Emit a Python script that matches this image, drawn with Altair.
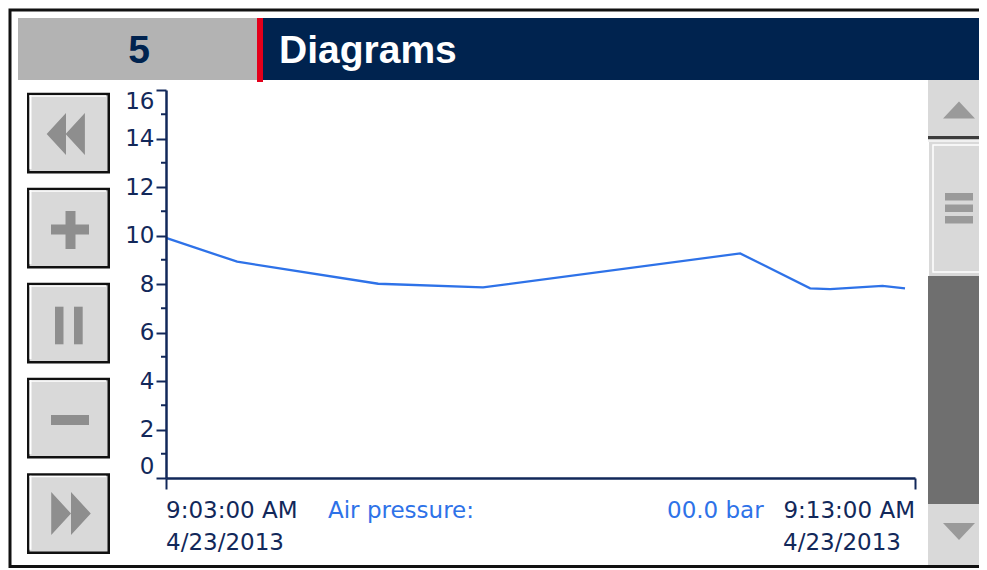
import altair as alt
import pandas as pd

# ---------------- data ----------------
times = [
    "2013-04-23T09:03:00Z", "2013-04-23T09:03:57Z", "2013-04-23T09:05:50Z",
    "2013-04-23T09:07:14Z", "2013-04-23T09:10:40Z", "2013-04-23T09:11:36Z",
    "2013-04-23T09:11:52Z", "2013-04-23T09:12:34Z", "2013-04-23T09:12:52Z",
]
pressure = [9.9, 8.92, 8.01, 7.86, 9.26, 7.82, 7.79, 7.92, 7.82]

y_major_ticks = [0, 2, 4, 6, 8, 10, 12, 14, 16]
y_minor_ticks = [1, 3, 5, 7, 9, 11, 13, 15]
x_tick_times = ["2013-04-23T09:03:00Z", "2013-04-23T09:13:00Z"]
x_tick_clock = ["9:03:00 AM", "9:13:00 AM"]
x_tick_date = ["4/23/2013", "4/23/2013"]

screen_no = "5"
screen_title = "Diagrams"
trend_label = "Air pressure:"
trend_value = "00.0 bar"

# ---------------- styling / layout ----------------
NAVY = "#12285a"
BLUE = "#2e72e8"
HEADER_NAVY = "#00234f"
HEADER_GRAY = "#b3b3b3"
RED = "#e3001b"
BTN = "#d9d9d9"
ICON = "#8e8e8e"
TRACK = "#6f6f6f"
FONT = "DejaVu Sans"

TOTAL_W, TOTAL_H = 971, 562
W, H = 749, 388
PL, PT = 158, 82
OX, OY = 8 + PL, 8 + PT  # page position of plot origin


def P(x):
    return x - OX


def Q(y):
    return y - OY


ONE = alt.Data(values=[{"k": 0}])


def box(x1, x2, y1, y2, fill, **kw):
    return alt.Chart(ONE).mark_rect(fill=fill, **kw).encode(
        x=alt.value(P(x1)), x2=alt.value(P(x2)),
        y=alt.value(Q(y1)), y2=alt.value(Q(y2)))


def outline(x1, x2, y1, y2, color, width):
    return alt.Chart(ONE).mark_rect(fillOpacity=0, stroke=color, strokeWidth=width).encode(
        x=alt.value(P(x1)), x2=alt.value(P(x2)),
        y=alt.value(Q(y1)), y2=alt.value(Q(y2)))


def glyph(path, cx, cy, half, color):
    return alt.Chart(ONE).mark_point(shape=path, size=(2 * half) ** 2, filled=True,
                                     color=color, opacity=1, strokeWidth=0).encode(
        x=alt.value(P(cx)), y=alt.value(Q(cy)))


def label(txt, x, y, size, color, font=FONT, weight="normal", align="left"):
    return alt.Chart(ONE).mark_text(text=txt, font=font, fontSize=size, fontWeight=weight,
                                    color=color, align=align, baseline="alphabetic").encode(
        x=alt.value(P(x)), y=alt.value(Q(y)))


# ---------------- the trend itself ----------------
ms0 = int(pd.Timestamp(x_tick_times[0]).value // 10**6)
ms1 = int(pd.Timestamp(x_tick_times[1]).value // 10**6)

X_SCALE = alt.Scale(type="utc", domain=[ms0, ms1])
Y_SCALE = alt.Scale(domain=[0, 16], nice=False, zero=True)
X_AXIS = alt.Axis(values=[ms0, ms1], labels=False, tickSize=11, tickWidth=2,
                  tickColor=NAVY, domainColor=NAVY, domainWidth=2.5,
                  title=None, grid=False, zindex=2)
Y_AXIS = alt.Axis(values=y_major_ticks, labelFlush=True, tickSize=10, tickWidth=2,
                  tickColor=NAVY, domainColor=NAVY, domainWidth=2.5,
                  labelFont=FONT, labelFontSize=23, labelColor=NAVY,
                  labelPadding=2, title=None, grid=False, zindex=2)

df = pd.DataFrame({"time": times, "pressure": pressure})

line = alt.Chart(df).mark_line(color=BLUE, strokeWidth=2.3).encode(
    x=alt.X("time:T", scale=X_SCALE, axis=X_AXIS),
    y=alt.Y("pressure:Q", scale=Y_SCALE, axis=Y_AXIS),
)

layers = [line]

# outer frame
layers.append(outline(10, 1000, 10, 566.5, "#111111", 3))
# header
layers.append(box(18, 257, 18, 80, HEADER_GRAY))
layers.append(box(263, 1000, 18, 80, HEADER_NAVY))
layers.append(box(257, 263, 18, 82, RED))
layers.append(label(screen_no, 139, 63, 39, HEADER_NAVY, "Liberation Sans", "bold", "center"))
layers.append(label(screen_title, 279, 63, 39, "white", "Liberation Sans", "bold"))

# left buttons
btn_tops = [92.7, 187.7, 282.7, 377.7, 473.3]
for top in btn_tops:
    layers.append(box(27, 110, top, top + 80.7, "#111111"))
    layers.append(box(29.5, 107.5, top + 2.5, top + 78.2, BTN))
    layers.append(box(29.5, 106, top + 2.5, top + 4, "white"))
    layers.append(box(29.5, 31.5, top + 2.5, top + 76.5, "white"))

rewind = "M -0.92 0 L 0 -1 L 0 1 Z M -0.02 0 L 0.9 -1 L 0.9 1 Z"
forward = "M -0.92 -1 L 0 0 L -0.92 1 Z M 0 -1 L 0.92 0 L 0 1 Z"
layers.append(glyph(rewind, 66, 134, 21, ICON))
layers.append(box(51, 89, 224.5, 234.5, ICON))      # plus
layers.append(box(65.5, 75.5, 211, 249, ICON))
layers.append(box(55, 63.5, 306.7, 344.3, ICON))    # pause
layers.append(box(74, 82.7, 306.7, 344.3, ICON))
layers.append(box(51, 89, 415, 425, ICON))          # minus
layers.append(glyph(forward, 71, 513.5, 21.5, ICON))

# right scroll bar
layers.append(box(928, 1000, 80, 136, BTN))
layers.append(box(928, 1000, 136, 139.5, "#3c3c3c"))
layers.append(box(928, 1000, 139.5, 142, "#f0f0f0"))
layers.append(box(929, 1000, 142, 276, BTN))
layers.append(outline(933, 983, 145, 272, "white", 1.5))
for gy in [193, 204.5, 216]:
    layers.append(box(945, 973, gy, gy + 7.5, "#9a9a9a"))
layers.append(box(928, 1000, 276, 504, TRACK))
layers.append(box(928, 1000, 504, 565, BTN))
tri_up = "M -1 0.53 L 0 -0.53 L 1 0.53 Z"
tri_down = "M -1 -0.53 L 0 0.53 L 1 -0.53 Z"
layers.append(glyph(tri_up, 959, 110, 16, "#9a9a9a"))
layers.append(glyph(tri_down, 959, 531.5, 16, "#9a9a9a"))

# status texts in the trend view
layers.append(label(trend_label, 328, 518, 23, BLUE))
layers.append(label(trend_value, 667, 518, 23, BLUE))

minor = alt.Chart(pd.DataFrame({"pressure": y_minor_ticks})).mark_rule(
    color=NAVY, strokeWidth=2).encode(
    y=alt.Y("pressure:Q", scale=Y_SCALE, axis=Y_AXIS), x=alt.value(-5), x2=alt.value(0))

df_ticks = pd.DataFrame({"time": x_tick_times, "clock": x_tick_clock, "date": x_tick_date})
first_tick = df_ticks.iloc[[0]]
last_tick = df_ticks.iloc[[1]]


def tick_text(d, field, y, align, dx):
    return alt.Chart(d).mark_text(font=FONT, fontSize=23, color=NAVY, align=align,
                                  baseline="alphabetic", dx=dx).encode(
        x=alt.X("time:T", scale=X_SCALE, axis=X_AXIS), y=alt.value(Q(y)),
        text=alt.Text(f"{field}:N"))


layers += [
    minor,
    tick_text(first_tick, "clock", 518, "left", 0),
    tick_text(first_tick, "date", 550, "left", 0),
    tick_text(last_tick, "clock", 518, "right", 0),
    tick_text(last_tick, "date", 550, "left", -132),
]

chart = alt.layer(*layers).properties(
    width=W, height=H,
    padding={"left": PL, "top": PT, "right": TOTAL_W - PL - W, "bottom": TOTAL_H - PT - H},
    autosize=alt.AutoSizeParams(type="none"),
    background="white",
).configure_view(stroke="transparent")

chart.save("out.html", embed_options={"renderer": "svg", "actions": False})
